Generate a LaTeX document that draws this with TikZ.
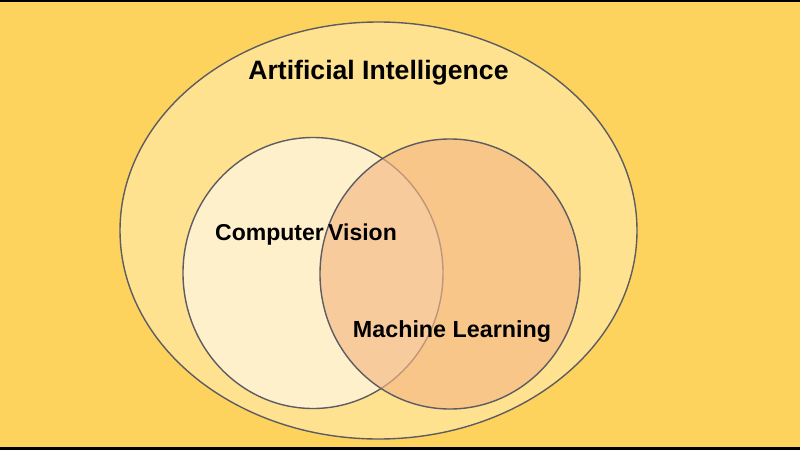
\documentclass[tikz,border=0pt]{standalone}
\usepackage{fontspec}
\setmainfont{Liberation Sans}
\usetikzlibrary{shapes.geometric}
\definecolor{bgyellow}{HTML}{FDD35E}
\definecolor{aiyellow}{HTML}{FEE290}
\definecolor{cvcream}{HTML}{FEF0CB}
\definecolor{mlorange}{HTML}{F5B884}
\definecolor{rim}{HTML}{5C5C62}

\begin{document}
\begin{tikzpicture}[
  x = 1pt, y = -1pt,
  set/.style = {draw = rim, line width = 1.4pt, inner sep = 0pt},
  label/.style = {font = \bfseries\fontsize{23.3}{26}\selectfont, anchor = base, inner sep = 0pt},
  ]
  \fill[bgyellow] (0,0) rectangle (800,450);
  \fill[black] (0,0) rectangle (800,1.5);
  \fill[black] (0,446.5) rectangle (800,450);
  \useasboundingbox (0,0) rectangle (800,450);
  \node[set, ellipse, fill = aiyellow, minimum width = 517pt, minimum height = 417pt] (ai) at (378.5,230.5) {};
  \node[set, ellipse, fill = cvcream, minimum width = 260pt, minimum height = 271pt] (cv) at (313,273) {};
  \node[set, ellipse, fill = mlorange, fill opacity = 0.65, minimum width = 260pt, minimum height = 270pt] (ml) at (450,274) {};
  \node[label, font = \bfseries\fontsize{26.6}{30}\selectfont] (ailabel) at (378.5,79) {Artificial Intelligence};
  \node[label, font = \bfseries\fontsize{23}{26}\selectfont] (cvlabel) at (306,240.5) {Computer\kern-2pt\ Vision};
  \node[label] (mllabel) at (452,337) {Machine Learning};
\end{tikzpicture}
\end{document}
